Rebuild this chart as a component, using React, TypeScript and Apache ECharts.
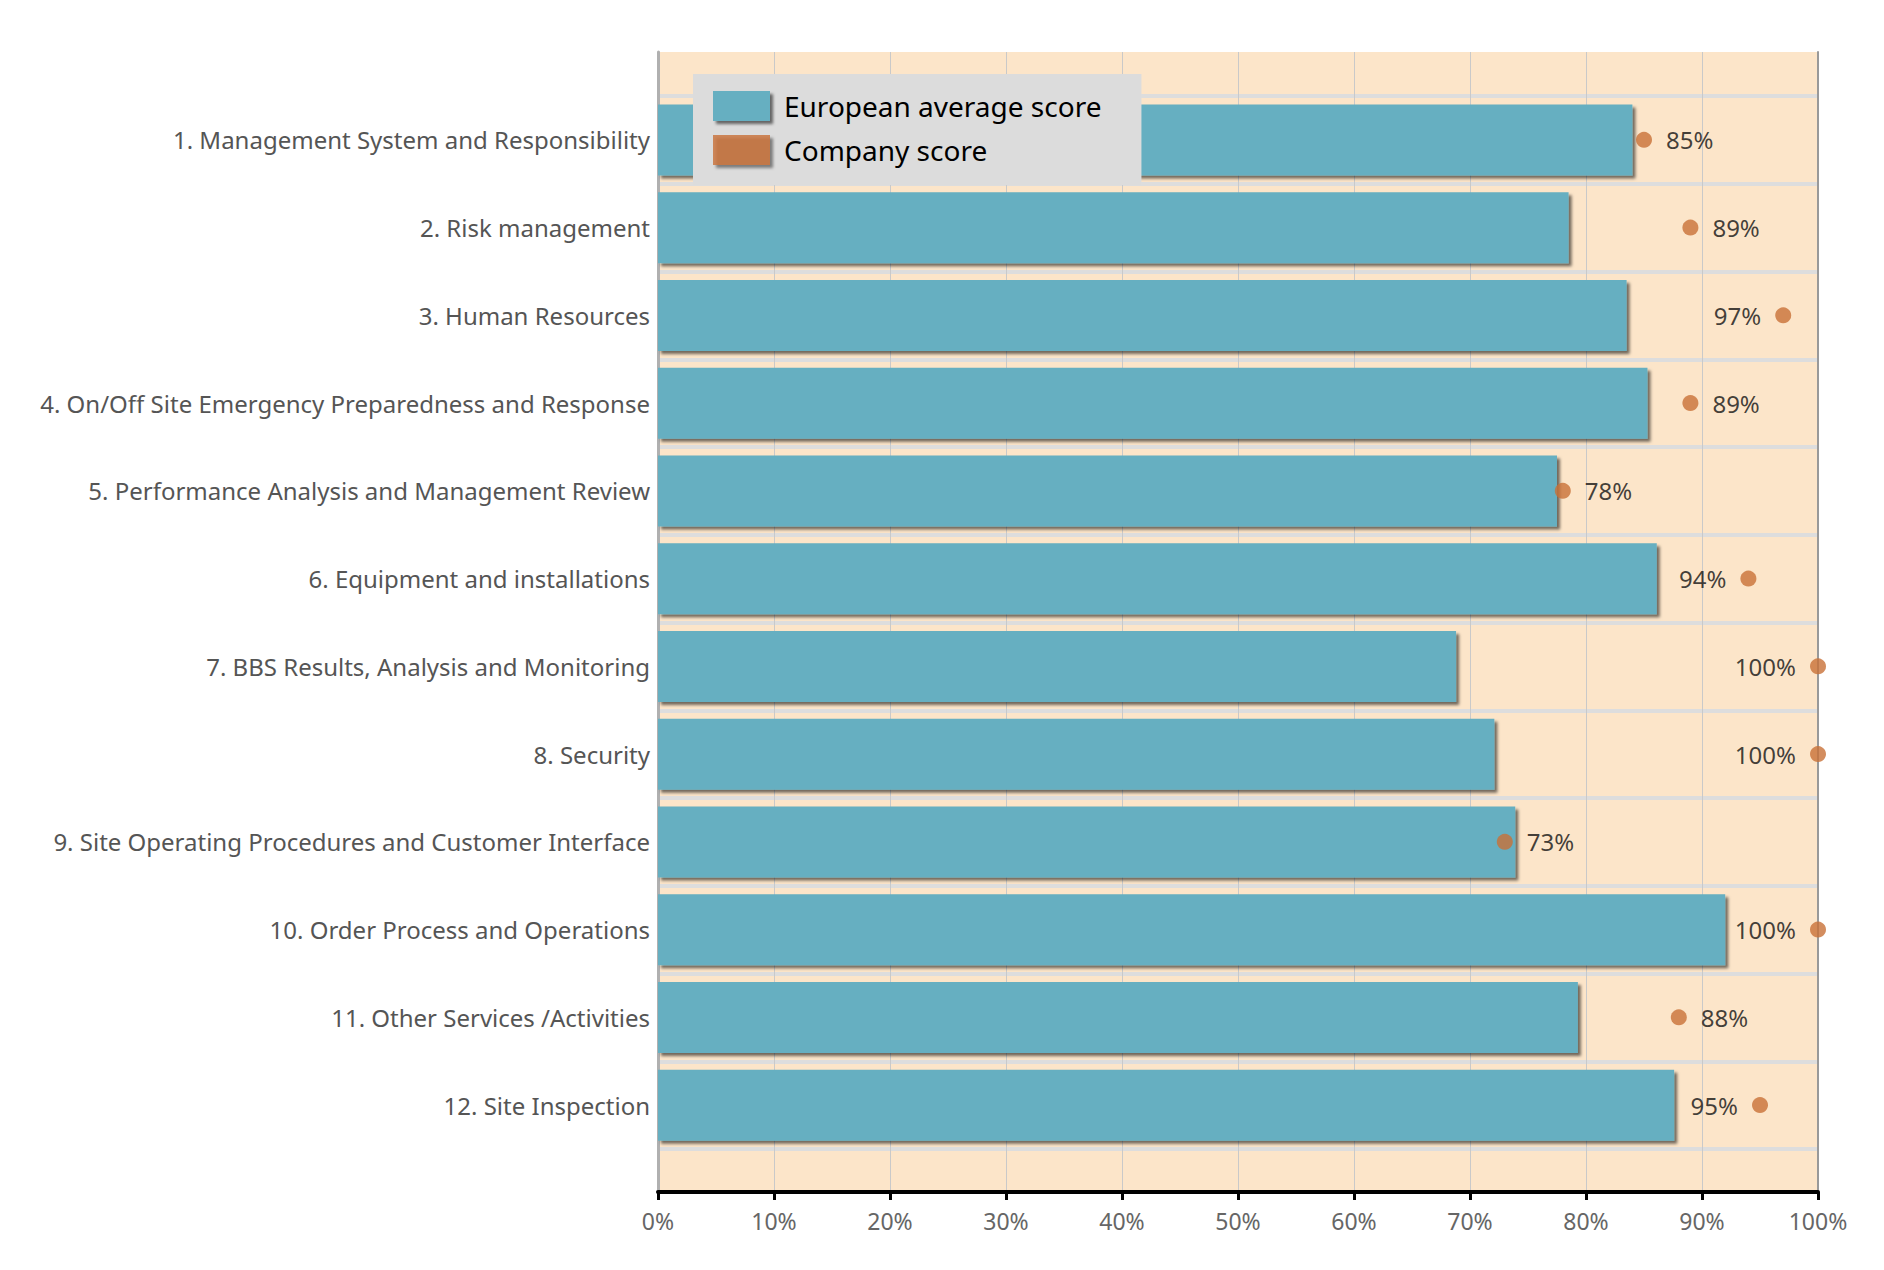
import React, { useEffect, useRef } from "react";
import * as echarts from "echarts";

const categories = [
  "1. Management System and Responsibility",
  "2. Risk management",
  "3. Human Resources",
  "4. On/Off Site Emergency Preparedness and Response",
  "5. Performance Analysis and Management Review",
  "6. Equipment and installations",
  "7. BBS Results, Analysis and Monitoring",
  "8. Security",
  "9. Site Operating Procedures and Customer Interface",
  "10. Order Process and Operations",
  "11. Other Services /Activities",
  "12. Site Inspection",
];
const europeanScores = [84, 78.5, 83.5, 85.3, 77.5, 86.1, 68.8, 72.1, 73.9, 92, 79.3, 87.6];
const companyScores = [85, 89, 97, 89, 78, 94, 100, 100, 73, 100, 88, 95];
const xTicks = { min: 0, max: 100, interval: 10 };

const FONT = "Noto Sans";

export default function App() {
  const ref = useRef<HTMLDivElement>(null);
  useEffect(() => {
    const chart = echarts.init(ref.current!, null, { renderer: "svg" });
    const gridLeft = 658;
    const gridWidth = 1160;
    chart.setOption({
      animation: false,
      backgroundColor: "#ffffff",
      textStyle: { fontFamily: FONT },
      grid: [
        { left: gridLeft, top: 52, width: gridWidth, height: 1140, show: true, backgroundColor: "#fce5c9", borderWidth: 0 },
        { left: gridLeft, top: 96, width: gridWidth, height: 1053 },
      ],
      legend: {
        orient: "vertical",
        left: 693,
        top: 74,
        padding: [17, 40, 20, 20],
        backgroundColor: "#dcdcdc",
        itemWidth: 57,
        itemHeight: 30,
        itemGap: 14,
        textStyle: { fontSize: 28, color: "#000", fontFamily: FONT, padding: [0, 0, 0, 9] },
        data: [
          { name: "European average score", icon: "rect", itemStyle: { color: "#66afc1", shadowColor: "rgba(0,0,0,0.55)", shadowOffsetX: 3, shadowOffsetY: 3, shadowBlur: 3 } },
          { name: "Company score", icon: "rect", itemStyle: { color: "#c87137", shadowColor: "rgba(0,0,0,0.55)", shadowOffsetX: 3, shadowOffsetY: 3, shadowBlur: 3 } },
        ],
      },
      xAxis: [
        {
          gridIndex: 0,
          type: "value",
          min: xTicks.min,
          max: xTicks.max,
          interval: xTicks.interval,
          axisLine: { show: true, lineStyle: { color: "#000", width: 4 } },
          axisTick: { show: true, length: 8, lineStyle: { color: "#000", width: 3 } },
          axisLabel: { formatter: "{value}%", fontSize: 23, color: "#666", margin: 17, fontFamily: FONT },
          splitLine: { show: true, lineStyle: { color: "#c9c9c9", width: 1 } },
        },
        { gridIndex: 1, type: "value", min: xTicks.min, max: xTicks.max, show: false },
      ],
      yAxis: [
        {
          gridIndex: 0, type: "value", min: 0, max: 1, position: "left",
          axisLine: { show: true, lineStyle: { color: "#b0b0b0", width: 3 } },
          axisTick: { show: false }, axisLabel: { show: false }, splitLine: { show: false },
        },
        {
          gridIndex: 0, type: "value", min: 0, max: 1, position: "right",
          axisLine: { show: true, lineStyle: { color: "#999", width: 2 } },
          axisTick: { show: false }, axisLabel: { show: false }, splitLine: { show: false },
        },
        {
          gridIndex: 1,
          type: "category",
          inverse: true,
          data: categories,
          axisLine: { show: false },
          axisTick: { show: false },
          axisLabel: { fontSize: 24, color: "#555", margin: 8, fontFamily: FONT },
          splitLine: { show: true, lineStyle: { color: "#dddddd", width: 4 } },
        },
      ],
      series: [
        {
          name: "European average score",
          type: "bar",
          xAxisIndex: 1,
          yAxisIndex: 2,
          barWidth: 71,
          data: europeanScores,
          itemStyle: { color: "#66afc1", shadowColor: "rgba(0,0,0,0.55)", shadowOffsetX: 3, shadowOffsetY: 3, shadowBlur: 3 },
          z: 3,
        },
        {
          name: "Company score",
          type: "scatter",
          xAxisIndex: 1,
          yAxisIndex: 2,
          symbol: "circle",
          symbolSize: 16,
          itemStyle: { color: "#c87137" },
          z: 4,
          label: { show: true, formatter: (p: any) => p.value[0] + "%", fontSize: 24, color: "#111", distance: 14, fontFamily: FONT },
          data: companyScores.map((v, i) => ({
            value: [v, categories[i]],
            label: { position: v >= 90 ? "left" : "right" },
          })),
        },
      ],
    });
    return () => chart.dispose();
  }, []);
  return <div ref={ref} style={{ position: "fixed", left: 0, top: 0, width: 1884, height: 1270 }} />;
}
